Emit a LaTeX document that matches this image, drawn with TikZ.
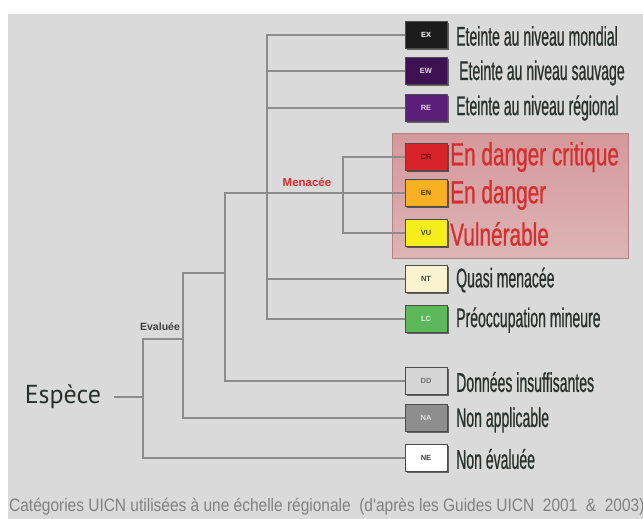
\documentclass[tikz,border=0pt]{standalone}
\usepackage{fontspec}
\setmainfont{Liberation Sans}
\newfontfamily\cond[FakeStretch=0.52,FakeBold=0.6]{Liberation Sans}
\newfontfamily\condr[FakeStretch=0.65,FakeBold=0.6]{Liberation Sans}
\newfontfamily\capf[FakeStretch=0.86]{Liberation Sans}
\newfontfamily\espf{PT Sans}
\usetikzlibrary{shadows}
\definecolor{bgc}{HTML}{DADADA}
\definecolor{linec}{HTML}{8C8C8C}
\definecolor{labc}{HTML}{2A302C}
\definecolor{redt}{HTML}{D42E2E}
\definecolor{cEX}{HTML}{1C1C1C}
\definecolor{cEW}{HTML}{3E1252}
\definecolor{cRE}{HTML}{5B1F7A}
\definecolor{cCR}{HTML}{D8232A}
\definecolor{cEN}{HTML}{F7B122}
\definecolor{cVU}{HTML}{F6EE1A}
\definecolor{cNT}{HTML}{FBF3CF}
\definecolor{cLC}{HTML}{5DB85A}
\definecolor{cDD}{HTML}{D6D6D6}
\definecolor{cNA}{HTML}{8E8E8E}
\definecolor{cNE}{HTML}{FFFFFF}
\definecolor{pinktop}{HTML}{D5989B}
\definecolor{pinkbot}{HTML}{DDB4B5}
\tikzset{
  br/.style={draw=linec, line width=1.3pt},
  catbox/.style={draw=black!70, line width=0.6pt, minimum width=42pt, minimum height=27pt,
    inner sep=0pt, font=\fontsize{7.5}{8}\selectfont\bfseries,
    drop shadow={shadow xshift=1.5pt, shadow yshift=-1.5pt, opacity=0.55, fill=black}},
  lab/.style={anchor=west, inner sep=0pt, text=labc, font=\cond\fontsize{27}{29}\selectfont},
  redlab/.style={anchor=west, inner sep=0pt, text=redt, font=\condr\fontsize{32}{34}\selectfont},
}
\begin{document}
\begin{tikzpicture}[x=1pt, y=-1pt]
\useasboundingbox (0,0) rectangle (643,519);
\fill[white] (0,0) rectangle (643,519);
\fill[bgc] (8,14) rectangle (643,519);
% highlighted threatened group
\shade[top color=pinktop, bottom color=pinkbot, draw=pinktop!85!black, line width=0.5pt]
  (392,133) rectangle (628,258);

% category boxes
\node[catbox, fill=cEX, text=white] (ex) at (426,35) {EX};
\node[catbox, fill=cEW, text=white!85!cEW] (ew) at (426,71) {EW};
\node[catbox, fill=cRE, text=white!80!cRE] (re) at (426,108) {RE};
\node[catbox, fill=cCR, text=black!55!cCR] (cr) at (426,157) {CR};
\node[catbox, fill=cEN, text=black!70!cEN] (en) at (426,193) {EN};
\node[catbox, fill=cVU, text=black!75] (vu) at (426,233) {VU};
\node[catbox, fill=cNT, text=black!75] (nt) at (426,279) {NT};
\node[catbox, fill=cLC, text=white!85!cLC] (lc) at (426,319) {LC};
\node[catbox, fill=cDD, text=black!55] (dd) at (426,381) {DD};
\node[catbox, fill=cNA, text=white!70!cNA] (na) at (426,418) {NA};
\node[catbox, fill=cNE, text=black!75] (ne) at (426,458) {NE};

% labels
\node[lab] (tex) at (456,36) {Eteinte au niveau mondial};
\node[lab] (tew) at (459,73) {Eteinte au niveau sauvage};
\node[lab] (tre) at (456,108) {Eteinte au niveau régional};
\node[redlab] (tcr) at (450,157) {En danger critique};
\node[redlab] (ten) at (450,195) {En danger};
\node[redlab] (tvu) at (450,234) {Vulnérable};
\node[lab] (tnt) at (456,280) {Quasi menacée};
\node[lab] (tlc) at (456,320) {Préoccupation mineure};
\node[lab] (tdd) at (456,382) {Données insuffisantes};
\node[lab] (tna) at (456,420) {Non applicable};
\node[lab] (tne) at (456,459) {Non évaluée};

% root
\node[anchor=east, inner sep=0pt, outer xsep=13pt, text=labc, font=\espf\fontsize{26}{28}\selectfont] (esp) at (114,397) {Espèce};

% junction coordinates
\coordinate (r) at (143,397);
\coordinate (a1) at (143,339);
\coordinate (bj) at (183,339);
\coordinate (b1) at (183,273);
\coordinate (c0) at (225,273);
\coordinate (c1) at (225,193);
\coordinate (d2) at (267,319);
\coordinate (e2) at (343,233);

% connectors
\draw[br] (esp.east) -- (r);
\draw[br] (ne.west) -| (a1) -- (bj);
\draw[br] (na.west) -| (b1) -- (c0);
\draw[br] (dd.west) -| (c1) -- (en.west);
\draw[br] (ex.west) -| (d2) -- (lc.west);
\draw[br] (ew.west) -- (ew.west -| d2);
\draw[br] (re.west) -- (re.west -| d2);
\draw[br] (nt.west) -- (nt.west -| d2);
\draw[br] (cr.west) -| (e2) -- (vu.west);

% branch labels
\node[inner sep=0pt, text=black!75, font=\fontsize{10.5}{12}\selectfont\bfseries] (eva) at (160,327) {Evaluée};
\node[inner sep=0pt, text=redt, font=\fontsize{11.5}{13}\selectfont\bfseries] (men) at (307,182) {Menacée};

% caption
\node[anchor=west, inner sep=0pt, text=black!50, font=\capf\fontsize{18}{20}\selectfont] (cap) at (9,507)
  {Catégories UICN utilisées à une échelle régionale\ \ (d'après les Guides UICN\ \ 2001\ \ \&\ \ 2003)};
\end{tikzpicture}
\end{document}
